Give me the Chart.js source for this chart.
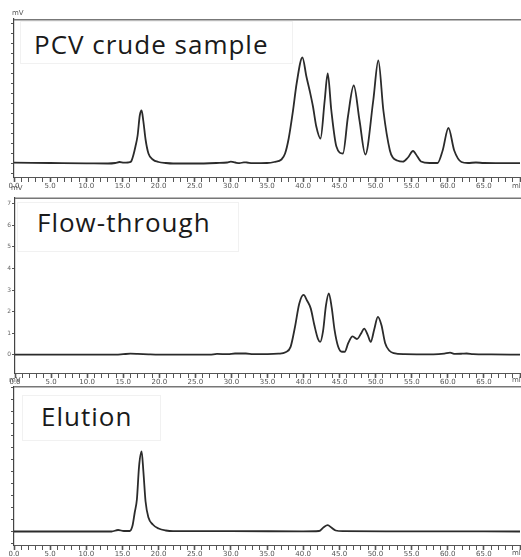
<!DOCTYPE html>
<html>
<head>
    <title>PCV chromatograms</title>
    <script src="https://cdn.jsdelivr.net/npm/chart.js"></script>
    <style>
        body { margin: 0; background: #fff; }
        #wrap { position: relative; width: 521px; height: 557px; overflow: hidden; }
        canvas { position: absolute; left: 0; }
        .box { position: absolute; border: 1px solid #f1f1f1; background: #fff; box-sizing: border-box; }
        .title { position: absolute; font-family: 'Open Sans', sans-serif; font-size: 26px; letter-spacing: 1px; color: #1a1a1a; white-space: nowrap; line-height: 1; }
        .unit { position: absolute; font: 7px 'DejaVu Sans', sans-serif; color: #555; }
    </style>
</head>
<body>
<div id="wrap">
    <canvas id="c1" width="521" height="193" style="top:0"></canvas>
    <canvas id="c2" width="521" height="193" style="top:193px"></canvas>
    <canvas id="c3" width="521" height="171" style="top:386px"></canvas>

    <div class="box" style="left:20px;top:21px;width:273px;height:43px"></div>
    <div class="title" style="left:34px;top:31px">PCV crude sample</div>
    <div class="box" style="left:17px;top:202px;width:222px;height:50px"></div>
    <div class="title" style="left:37px;top:209px">Flow-through</div>
    <div class="box" style="left:22px;top:395px;width:139px;height:46px"></div>
    <div class="title" style="left:41px;top:403px">Elution</div>

    <div class="unit" style="left:12px;top:9px">mV</div>
    <div class="unit" style="left:11px;top:184px">mV</div>
    <div class="unit" style="left:9px;top:376px">mV</div>
    <div class="unit" style="left:512px;top:182px">ml</div>
    <div class="unit" style="left:512px;top:376px">ml</div>
    <div class="unit" style="left:512px;top:549px">ml</div>
</div>

<script>
    // 保留体积 (ml) 与信号高度，读图估计
    const crudeX = [0, 5, 10, 13, 14, 14.6, 15.2, 15.8, 16.2, 16.5, 16.8, 17.1, 17.4, 17.65, 17.9, 18.2, 18.6, 19.2, 20, 21, 22, 25, 28, 29.5, 30, 30.6, 31.2, 31.8, 32.2, 33, 35, 36, 37, 37.5, 38, 38.6, 39.1, 39.9, 40.45, 40.9, 41.36, 41.82, 42.4, 42.98, 43.4, 43.9, 44.6, 45.5, 46.2, 47.0, 47.8, 48.6, 49.7, 50.4, 51.1, 52.0, 52.4, 53.0, 53.8, 54.5, 55.2, 55.8, 56.3, 57.5, 58.6, 59.3, 60.1, 60.9, 61.9, 62.8, 63.9, 65, 70];
    const crude  = [0.8, 0.5, 0.2, 0, 0.5, 1.5, 0.8, 1, 2, 8, 17, 28, 48, 53, 42, 24, 10, 4, 1.5, 0.5, 0, 0, 0.5, 1, 1.8, 1, 0.3, 1.2, 1, 0.3, 0.5, 1.5, 4, 10, 25, 53, 80, 106, 87, 73, 57, 37, 25, 63, 90, 53, 17, 10, 47, 78, 43, 9, 63, 103, 53, 13, 6, 3, 1.8, 6, 12.5, 7, 2, 0.5, 0.5, 13, 35.5, 13, 1.5, 0.5, 1, 0.5, 0.3];

    const flowX = [0, 14, 15, 16, 17, 18.5, 20, 27, 28, 29.5, 30.5, 32, 33, 35, 36.5, 37.5, 38.2, 38.8, 39.4, 40.0, 40.5, 41.0, 41.5, 42.0, 42.3, 42.7, 43.1, 43.5, 43.9, 44.3, 44.8, 45.3, 45.7, 46.2, 46.8, 47.4, 48.0, 48.4, 48.9, 49.3, 49.8, 50.3, 50.8, 51.3, 51.9, 52.5, 54, 58, 59.5, 60.3, 61, 62, 62.6, 63.5, 66, 70];
    const flowThrough = [0, 0, 0.5, 1, 0.8, 0.3, 0, 0, 0.8, 0.5, 1.2, 1.2, 0.6, 0.5, 1, 2.5, 8, 28, 52, 61, 55, 47, 30, 16, 13, 24, 50, 62.6, 48, 25, 8, 3, 3, 12, 18.6, 16, 22, 26.6, 20, 13, 26, 38.6, 30, 12, 4, 1.5, 0.5, 0.3, 1, 2, 0.8, 1, 1.2, 0.6, 0.3, 0];

    const elutionX = [0, 13.5, 14.4, 15.2, 16.0, 16.4, 16.7, 17.0, 17.3, 17.65, 17.9, 18.2, 18.6, 19.2, 20.0, 21.0, 22, 30, 40, 42.2, 42.8, 43.4, 43.9, 44.5, 45.5, 55, 70];
    const elution  = [0, 0, 1.5, 0.5, 0.5, 6, 19, 32, 65, 80, 60, 30, 14, 7, 3, 1, 0.3, 0.3, 0.2, 0.5, 4, 6.3, 4, 1, 0.3, 0.2, 0];

    // 面板上沿横线
    const frame = {
        id: 'frame',
        afterDraw(c) {
            const a = c.chartArea, ctx = c.ctx;
            ctx.save();
            ctx.strokeStyle = '#777';
            ctx.lineWidth = 1.5;
            ctx.beginPath();
            ctx.moveTo(a.left, a.top + 0.75);
            ctx.lineTo(c.width, a.top + 0.75);
            ctx.stroke();
            ctx.restore();
        }
    };

    function makeChart(id, xs, ys, o) {
        new Chart(document.getElementById(id), {
            type: 'line',
            data: {
                datasets: [{
                    data: xs.map((x, i) => ({ x: x, y: ys[i] })),
                    borderColor: '#2b2b2b',
                    borderWidth: 1.8,
                    pointRadius: 0,
                    cubicInterpolationMode: 'monotone',
                    fill: false
                }]
            },
            options: {
                responsive: false,
                animation: false,
                layout: { padding: { top: o.padTop, right: 1, left: 0, bottom: 0 } },
                plugins: { legend: { display: false }, tooltip: { enabled: false } },
                scales: {
                    x: {
                        type: 'linear', min: 0, max: 70,
                        border: { color: '#555', width: 1 },
                        grid: {
                            drawOnChartArea: false, tickLength: 5, tickColor: '#555',
                            tickWidth: ctx => (ctx.tick && ctx.tick.value % 5 === 0) ? 1.6 : 1
                        },
                        ticks: {
                            stepSize: 1, maxTicksLimit: 100, autoSkip: false, maxRotation: 0, padding: 0,
                            color: '#555', font: { size: 7, family: 'DejaVu Sans' },
                            callback: v => (v % 5 === 0 && v < 70) ? v.toFixed(1) : ''
                        },
                        afterFit: s => { s.height = o.xH; s.paddingLeft = 0; s.paddingRight = 0; }
                    },
                    y: {
                        min: o.yMin, max: o.yMax,
                        border: { color: '#444', width: 1.2 },
                        grid: { drawOnChartArea: false, tickLength: 3, tickColor: '#555' },
                        ticks: {
                            display: o.yLabels, stepSize: o.yStep, includeBounds: false, padding: 1,
                            color: '#666', font: { size: 6, family: 'DejaVu Sans' },
                            callback: v => String(Math.round(v / o.yStep))
                        },
                        afterFit: s => { s.width = o.yW; }
                    }
                }
            },
            plugins: [frame]
        });
    }

    makeChart('c1', crudeX, crude, { padTop: 19, xH: 16, yW: 14, yMin: -13.5, yMax: 144.5, yStep: 10, yLabels: false });
    makeChart('c2', flowX, flowThrough, { padTop: 1, xH: 13, yW: 15, yMin: -18.7, yMax: 160.3, yStep: 22, yLabels: true });
    makeChart('c3', elutionX, elution, { padTop: 0, xH: 12, yW: 14, yMin: -13.5, yMax: 145.5, yStep: 12, yLabels: false });
</script>
</body>
</html>
